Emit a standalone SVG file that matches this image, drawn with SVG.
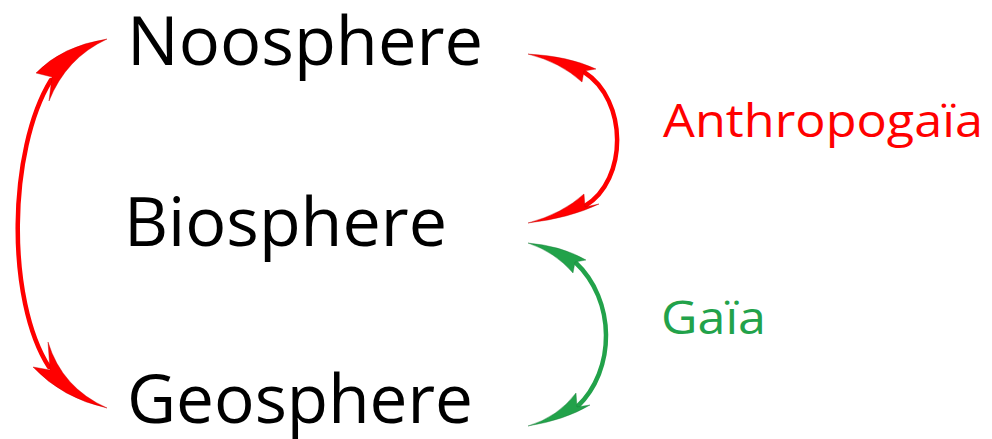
<svg xmlns="http://www.w3.org/2000/svg" width="992" height="439" viewBox="0 0 992 439">
  <style>
    .sphere { font-family: "Open Sans", "Noto Sans", sans-serif; font-size: 68px; fill: #000; }
    .realm { font-family: "Open Sans", "Noto Sans", sans-serif; font-size: 45px; }
    .red { fill: #ff0000; }
    .green { fill: #22a24a; }
    .shaft { fill: none; stroke-width: 4.5; stroke-linecap: round; }
    .shaft.r { stroke: #ff0000; }
    .shaft.g { stroke: #22a24a; }
    .head.r { fill: #ff0000; stroke: #c00000; stroke-width: 0.4; }
    .head.g { fill: #22a24a; stroke: #1a7a38; stroke-width: 0.4; }
  </style>
  <rect width="992" height="439" fill="#ffffff"/>

  <g id="connectors">
    <!-- Noosphere <-> Geosphere -->
    <g id="link-noo-geo">
      <path class="shaft r" d="M51,80 C8,150 6,300 49,367"/>
      <path class="head r" d="M107,39 Q62,46 36,73 L52,77 L49,101 Q66,58 107,39 Z"/>
      <path class="head r" d="M107,408 Q62,398 33,367 L50,370 L48,342 Q62,388 107,408 Z"/>
    </g>
    <!-- Noosphere <-> Biosphere (Anthropogaia) -->
    <g id="link-noo-bio">
      <path class="shaft r" d="M584,72 C628,100 628,180 585,206"/>
      <path class="head r" d="M528,54 Q568,56 596,69 L584,71 L582,82 Q560,62 528,54 Z"/>
      <path class="head r" d="M528,223 Q570,218 599,204 L585,207 L584,194 Q562,214 528,223 Z"/>
    </g>
    <!-- Biosphere <-> Geosphere (Gaia) -->
    <g id="link-bio-geo">
      <path class="shaft g" d="M575,262 C616,300 616,370 577,407"/>
      <path class="head g" d="M528,243 Q562,246 586,260 L575,262 L573,273 Q555,252 528,243 Z"/>
      <path class="head g" d="M528,426 Q565,420 590,405 L577,407 L576,393 Q558,417 528,426 Z"/>
    </g>
  </g>

  <g id="noosphere"><text class="sphere" x="127" y="65" textLength="356" lengthAdjust="spacingAndGlyphs">Noosphere</text></g>
  <g id="biosphere"><text class="sphere" x="124" y="246" textLength="323" lengthAdjust="spacingAndGlyphs">Biosphere</text></g>
  <g id="geosphere"><text class="sphere" x="127" y="423" textLength="346" lengthAdjust="spacingAndGlyphs">Geosphere</text></g>
  <g id="anthropogaia"><text class="realm red" x="663" y="137" textLength="320" lengthAdjust="spacingAndGlyphs">Anthropogaïa</text></g>
  <g id="gaia"><text class="realm green" x="661" y="334" textLength="105" lengthAdjust="spacingAndGlyphs">Gaïa</text></g>
</svg>
